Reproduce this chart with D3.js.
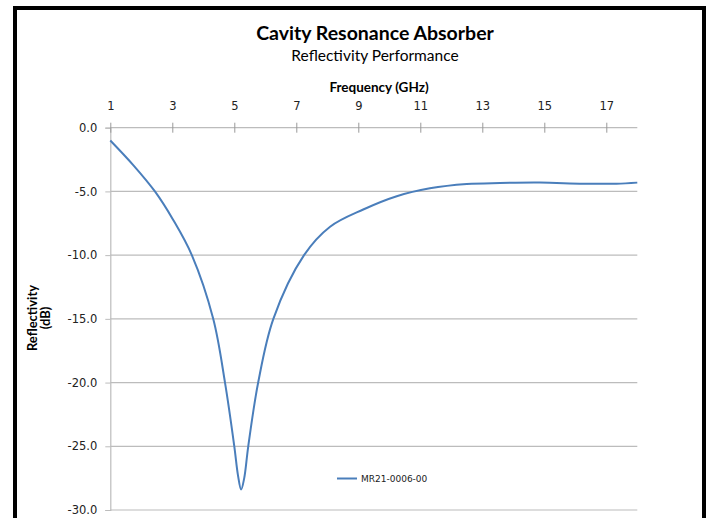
<!DOCTYPE html>
<html>
<head>
<meta charset="utf-8">
<script src="https://cdn.jsdelivr.net/npm/d3@7"></script>
<style>
  body { margin: 0; background: #fff; }
  svg { display: block; }
</style>
</head>
<body>
<script>
'use strict';
// values
let freqs = [1.0, 1.74, 2.44, 3.03, 3.63, 4.32, 4.70, 5.0, 5.12, 5.22, 5.32, 5.45, 5.77, 6.26, 7.25, 8.09, 9.16, 10.24, 11.31, 12.5, 13.57, 14.86, 16.26, 17.33, 18.0];
let reflect = [-1.0, -2.93, -5.0, -7.24, -10.0, -15.0, -20.0, -25.0, -27.3, -28.4, -27.5, -25.0, -20.0, -15.0, -10.0, -7.77, -6.42, -5.38, -4.76, -4.42, -4.34, -4.31, -4.39, -4.39, -4.31];
let xTicks = [1, 3, 5, 7, 9, 11, 13, 15, 17];
let yTicks = [0, -5, -10, -15, -20, -25, -30];
let seriesName = "MR21-0006-00";

(function () {
  let W = 709, H = 518;
  let svg = d3.select('body').append('svg')
    .attr('width', W)
    .attr('height', H);

  let plot = { left: 110.3, right: 637.3, top: 127.7, bottom: 510 };
  let x = d3.scaleLinear().domain([1, 18]).range([plot.left, plot.right]);
  let y = d3.scaleLinear().domain([0, -30]).range([plot.top, plot.bottom]);

  let blue = '#4a7ebb';
  let grid = '#bcbcbc';
  let sans = 'Lato, "Open Sans", sans-serif';
  let tickFont = '"DejaVu Sans", Verdana, sans-serif';
  let fmt = (d) => d3.format('.1f')(d).replace('\u2212', '-');

  // black frame
  svg.append('rect')
    .attr('x', 15).attr('y', 8)
    .attr('width', 689).attr('height', 540)
    .attr('fill', 'none')
    .attr('stroke', '#000')
    .attr('stroke-width', 4);

  // titles
  svg.append('text')
    .attr('x', 375).attr('y', 40)
    .attr('text-anchor', 'middle')
    .style('font-family', sans)
    .style('font-weight', 'bold')
    .style('font-size', '19.5px')
    .text('Cavity Resonance Absorber');
  svg.append('text')
    .attr('x', 375).attr('y', 61)
    .attr('text-anchor', 'middle')
    .style('font-family', sans)
    .style('font-size', '15.5px')
    .text('Reflectivity Performance');
  svg.append('text')
    .attr('x', 379).attr('y', 92)
    .attr('text-anchor', 'middle')
    .style('font-family', sans)
    .style('font-weight', 'bold')
    .style('font-size', '13.5px')
    .text('Frequency (GHz)');

  // horizontal gridlines
  svg.append('g')
    .selectAll('line')
    .data(yTicks.slice(1))
    .enter()
    .append('line')
    .attr('x1', plot.left).attr('x2', plot.right)
    .attr('y1', (d) => y(d)).attr('y2', (d) => y(d))
    .attr('stroke', grid)
    .attr('stroke-width', 1.2);

  // y axis on the left
  let yAxis = d3.axisLeft(y).tickValues(yTicks).tickSize(5).tickPadding(8)
    .tickFormat(fmt);
  let gy = svg.append('g')
    .attr('transform', 'translate(' + plot.left + ',0)')
    .call(yAxis);
  gy.select('.domain').attr('stroke', grid).attr('stroke-width', 1.2);
  gy.selectAll('.tick line').attr('stroke', grid);
  gy.selectAll('.tick text')
    .style('font-family', tickFont)
    .style('font-size', '11.5px')
    .attr('fill', '#222');

  // x axis along the 0 dB line, labels on top
  let xAxis = d3.axisTop(x).tickValues(xTicks).tickSize(5).tickPadding(13)
    .tickFormat(d3.format('d'));
  let gx = svg.append('g')
    .attr('transform', 'translate(0,' + plot.top + ')')
    .call(xAxis);
  gx.select('.domain').attr('d', 'M' + plot.left + ',0H' + plot.right)
    .attr('stroke', grid).attr('stroke-width', 1.2);
  gx.selectAll('.tick line').attr('y1', 5).attr('y2', -5).attr('stroke', '#999');
  gx.selectAll('.tick text')
    .style('font-family', tickFont)
    .style('font-size', '11.5px')
    .attr('fill', '#222');

  // y axis title, two lines
  let yt = svg.append('text')
    .attr('transform', 'translate(37,318)rotate(-90)')
    .attr('text-anchor', 'middle')
    .style('font-family', sans)
    .style('font-weight', 'bold')
    .style('font-size', '13px');
  yt.append('tspan').attr('x', 0).attr('y', 0).text('Reflectivity');
  yt.append('tspan').attr('x', 0).attr('y', 13).text('(dB)');

  // the curve
  let pts = freqs.map((f, i) => ({ f: f, r: reflect[i] }));
  let line = d3.line()
    .x((d) => x(d.f))
    .y((d) => y(d.r))
    .curve(d3.curveCatmullRom.alpha(0.5));
  svg.append('path')
    .datum(pts)
    .attr('fill', 'none')
    .attr('stroke', blue)
    .attr('stroke-width', 2)
    .attr('stroke-linejoin', 'round')
    .attr('d', line);

  // legend
  svg.append('line')
    .attr('x1', 337).attr('x2', 357)
    .attr('y1', 478.5).attr('y2', 478.5)
    .attr('stroke', blue)
    .attr('stroke-width', 2);
  svg.append('text')
    .attr('x', 361).attr('y', 482)
    .style('font-family', tickFont)
    .style('font-size', '9px')
    .attr('fill', '#222')
    .text(seriesName);
})();
</script>
</body>
</html>
